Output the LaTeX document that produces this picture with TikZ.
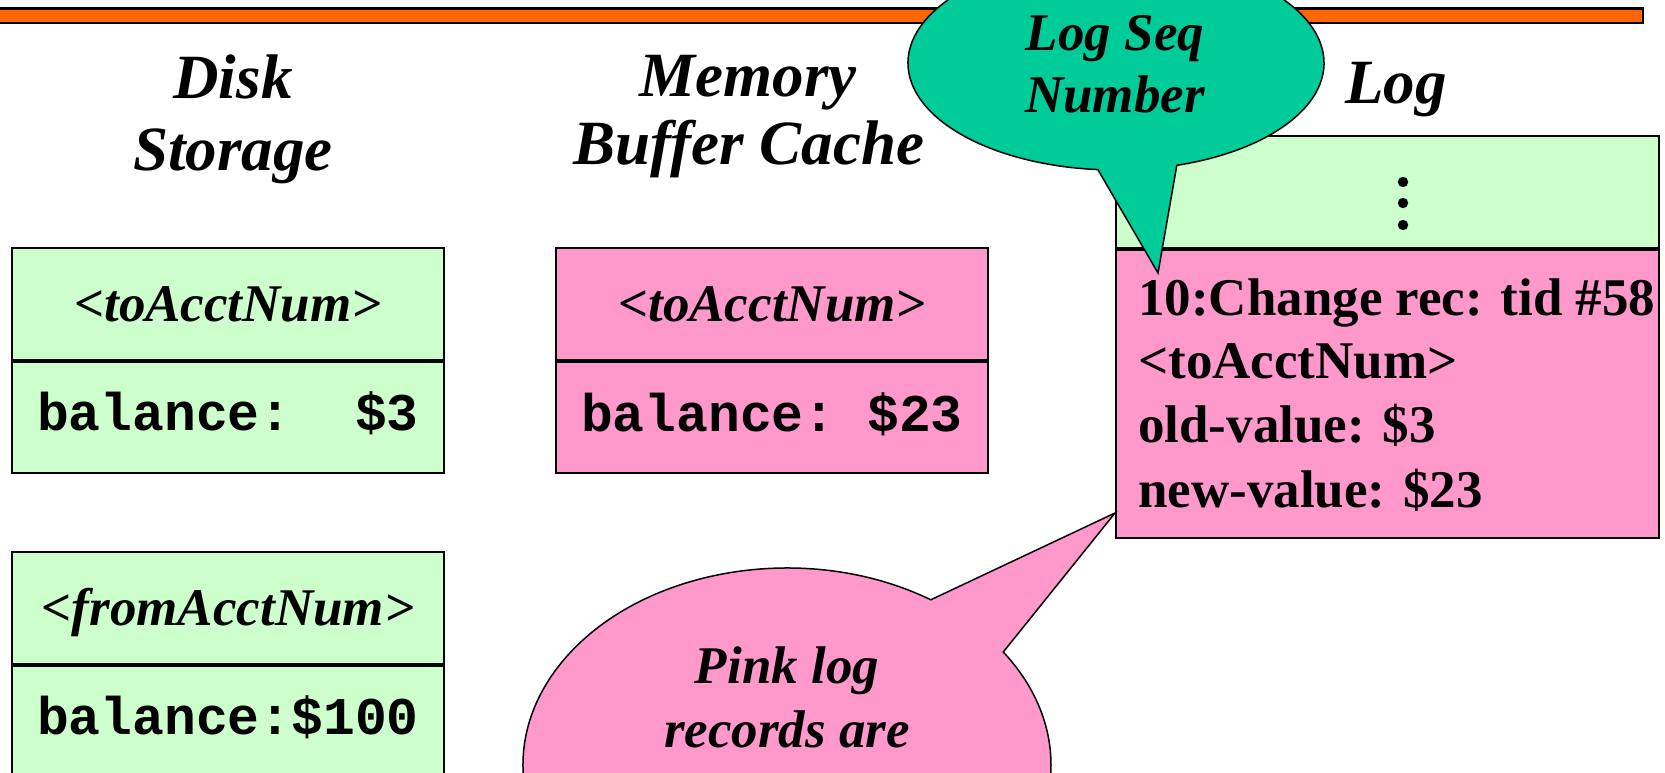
\documentclass[tikz,border=0pt]{standalone}
\usepackage{fontspec}
\setmainfont{Liberation Serif}
\setmonofont{Liberation Mono}
\definecolor{lgreen}{HTML}{CCFFCC}
\definecolor{lpink}{HTML}{FF99CC}
\definecolor{tealc}{HTML}{00CC99}
\definecolor{orng}{HTML}{FF6600}
\begin{document}
\begin{tikzpicture}[x=1pt,y=-1pt,
  cell/.style={draw=black, line width=2pt, inner sep=0pt, minimum width=432pt, text depth=0pt},
  topcell/.style={cell, minimum height=112pt, text height=35pt, font=\fontsize{53}{64}\selectfont\bfseries\itshape},
  botcell/.style={cell, minimum height=111pt, text height=27pt, font=\fontsize{53}{64}\selectfont\ttfamily\bfseries},
  title/.style={font=\fontsize{63}{72}\selectfont\bfseries\itshape, anchor=base, inner sep=0pt},
  big/.style={font=\fontsize{53}{64}\selectfont\bfseries\itshape, anchor=base, inner sep=0pt},
  logtxt/.style={font=\fontsize{53}{64}\selectfont\bfseries, anchor=base west, inner sep=0pt},
  callout/.style={draw=black, line width=1.5pt, line join=miter}]
\useasboundingbox (0,0) rectangle (1665,772);
\clip (0,0) rectangle (1665,772);
\fill[white] (0,0) rectangle (1665,772);
% orange bar
\draw[fill=orng, line width=2.5pt] (-10,8.5) rectangle (1643,23);
% titles
\node[title] (t1a) at (233,98) {Disk};
\node[title] (t1b) at (233,170) {Storage};
\node[title] (t2a) at (748,96) {Memory};
\node[title] (t2b) at (749,164) {Buffer Cache};
\node[title] (t3) at (1396,103) {Log};
% disk boxes
\node[topcell, fill=lgreen] (d1h) at (228,303.5) {<toAcctNum>};
\node[botcell, fill=lgreen, anchor=north] (d1b) at (d1h.south) {balance:\ \ \$3};
\node[topcell, fill=lgreen] (d2h) at (228,607.5) {<fromAcctNum>};
\node[botcell, fill=lgreen, anchor=north] (d2b) at (d2h.south) {balance:\$100};
% memory box
\node[topcell, fill=lpink] (m1h) at (772,304) {<toAcctNum>};
\node[botcell, fill=lpink, anchor=north] (m1b) at (m1h.south) {balance:\ \$23};
% log box
\node[draw=black, line width=2pt, fill=lgreen, minimum width=543pt, minimum height=112pt, inner sep=0pt] (lg) at (1387.5,192) {};
\node[draw=black, line width=2pt, fill=lpink, minimum width=543pt, minimum height=288pt, inner sep=0pt, anchor=north] (lp) at (lg.south) {};
\foreach \yy in {182,203,225} \fill (1403,\yy) circle[radius=5.2pt];
\node[logtxt] (l1) at (1138,315) {10:Change rec: tid \#58};
\node[logtxt] (l2) at (1138,378) {<toAcctNum>};
\node[logtxt] (l3) at (1138,442) {old-value: \$3};
\node[logtxt] (l4) at (1138,507) {new-value: \$23};
% Log Seq Number callout
\draw[callout, fill=tealc] (1116,63) ++(287:208pt and 107pt)
  arc[start angle=287, end angle=625, x radius=208pt, y radius=107pt] -- (1158,273) -- cycle;
\node[big] (c1a) at (1115,50) {Log Seq};
\node[big] (c1b) at (1115,112) {Number};
% Pink callout
\draw[callout, fill=lpink] (787,765) ++(57:264pt and 197pt)
  arc[start angle=57, end angle=395, x radius=264pt, y radius=197pt] -- (lp.west |- 0,513) -- cycle;
\node[big] (c2a) at (787,683) {Pink log};
\node[big] (c2b) at (787,747) {records are};
\end{tikzpicture}
\end{document}
